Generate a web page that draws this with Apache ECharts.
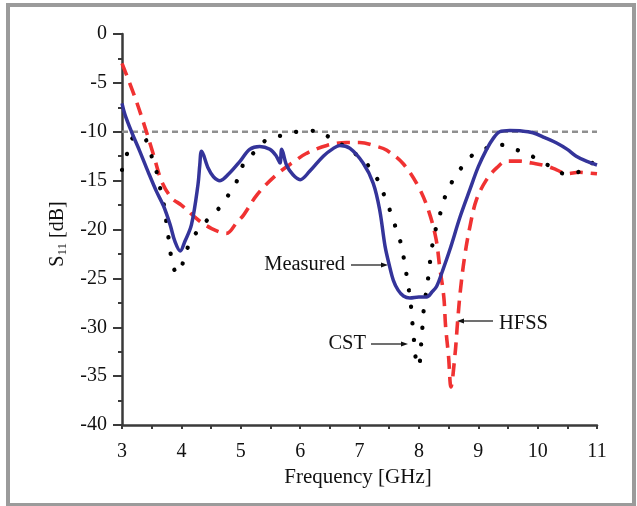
<!DOCTYPE html>
<html>
<head>
<meta charset="utf-8">
<script src="https://cdn.jsdelivr.net/npm/echarts@6/dist/echarts.min.js"></script>
<style>
html,body{margin:0;padding:0;background:#fff;}
#chart{width:637px;height:506px;}
</style>
</head>
<body>
<div id="chart"></div>
<script>
// ---- Data ----
const xTicks = [3, 4, 5, 6, 7, 8, 9, 10, 11];
const yTicks = [0, -5, -10, -15, -20, -25, -30, -35, -40];
const refLevel = -10;

const measuredFreq = [3.0, 3.05, 3.16, 3.30, 3.44, 3.58, 3.70, 3.81, 3.89, 3.98, 4.06, 4.17, 4.28, 4.31, 4.34, 4.45, 4.54, 4.65, 4.80, 4.99, 5.15, 5.32, 5.49, 5.60, 5.66, 5.69, 5.77, 5.88, 6.00, 6.16, 6.39, 6.56, 6.67, 6.84, 7.06, 7.23, 7.34, 7.43, 7.50, 7.57, 7.65, 7.74, 7.85, 8.00, 8.13, 8.22, 8.30, 8.40, 8.52, 8.70, 8.86, 9.00, 9.14, 9.25, 9.36, 9.53, 9.70, 9.92, 10.12, 10.32, 10.50, 10.65, 10.82, 11.0];
const measuredS11 = [-7.1, -8.25, -10.0, -12.0, -14.1, -16.1, -17.6, -19.5, -21.2, -22.2, -21.2, -19.5, -15.4, -13.4, -12.0, -13.7, -14.6, -15.0, -14.3, -13.0, -11.8, -11.5, -11.8, -12.5, -13.2, -11.8, -13.4, -14.4, -14.9, -14.05, -12.5, -11.7, -11.4, -11.7, -13.2, -15.25, -18.0, -21.7, -23.6, -25.2, -26.2, -26.8, -27.0, -26.9, -26.9, -26.4, -25.8, -24.2, -22.1, -18.6, -15.9, -13.6, -11.8, -10.7, -10.0, -9.86, -9.9, -10.1, -10.6, -11.15, -11.8, -12.5, -13.0, -13.4];

const cstFreq = [3.0, 3.08, 3.16, 3.27, 3.38, 3.47, 3.58, 3.64, 3.70, 3.78, 3.82, 3.88, 3.95, 4.02, 4.11, 4.23, 4.41, 4.61, 4.79, 4.93, 5.07, 5.21, 5.44, 5.72, 6.00, 6.28, 6.50, 6.75, 6.98, 7.18, 7.33, 7.44, 7.54, 7.63, 7.71, 7.76, 7.81, 7.85, 7.88, 7.90, 7.93, 7.96, 7.99, 8.02, 8.04, 8.06, 8.08, 8.12, 8.16, 8.19, 8.23, 8.29, 8.37, 8.45, 8.57, 8.72, 8.91, 9.10, 9.30, 9.45, 9.71, 9.97, 10.20, 10.47, 10.74, 10.96, 11.0];
const cstS11 = [-13.9, -12.35, -10.8, -10.4, -10.6, -12.0, -14.05, -15.7, -17.3, -20.7, -22.5, -24.1, -24.5, -23.5, -21.8, -20.5, -19.2, -18.0, -16.5, -15.1, -13.0, -12.2, -10.8, -10.35, -9.95, -9.9, -10.6, -11.5, -12.5, -13.7, -15.2, -16.9, -18.5, -20.2, -21.7, -23.5, -25.3, -27.0, -28.6, -30.3, -32.0, -33.8, -34.0, -33.35, -31.6, -30.0, -28.3, -26.5, -24.8, -23.2, -21.5, -19.8, -18.15, -16.5, -15.0, -13.65, -12.35, -11.8, -11.3, -11.4, -12.0, -12.7, -13.5, -14.3, -14.0, -13.0, -12.9];

const hfssFreq = [3.0, 3.22, 3.39, 3.53, 3.67, 3.84, 4.00, 4.28, 4.51, 4.76, 4.93, 5.05, 5.28, 5.60, 5.91, 6.11, 6.45, 6.78, 7.00, 7.29, 7.46, 7.74, 8.00, 8.17, 8.29, 8.35, 8.42, 8.45, 8.50, 8.54, 8.61, 8.65, 8.70, 8.77, 8.86, 8.97, 9.14, 9.31, 9.48, 9.70, 9.90, 10.15, 10.32, 10.49, 10.70, 10.82, 11.0];
const hfssS11 = [-3.0, -6.5, -9.6, -12.35, -15.1, -16.8, -17.5, -19.0, -19.9, -20.4, -19.3, -18.5, -16.4, -14.4, -13.0, -12.2, -11.4, -11.1, -11.1, -11.5, -11.9, -13.3, -15.7, -18.2, -21.0, -23.8, -26.9, -29.9, -33.0, -36.1, -32.7, -29.6, -26.2, -22.8, -19.7, -16.95, -14.9, -13.7, -13.0, -13.0, -13.2, -13.5, -13.9, -14.3, -14.15, -14.2, -14.3];

const zip = (xs, ys) => xs.map((x, i) => [x, ys[i]]);

const serif = "'Liberation Serif', 'Times New Roman', serif";
const chart = echarts.init(document.getElementById('chart'), null, {renderer: 'canvas'});

const option = {
  animation: false,
  backgroundColor: '#ffffff',
  grid: {left: 122, right: 40, top: 34, bottom: 81, containLabel: false},
  xAxis: {
    type: 'value', min: xTicks[0], max: xTicks[xTicks.length - 1], interval: 1,
    axisLine: {show: true, onZero: false, lineStyle: {color: '#3a3a3a', width: 2.5}},
    axisTick: {show: true, length: 4, inside: false, lineStyle: {color: '#3a3a3a', width: 2}},
    minorTick: {show: true, splitNumber: 2, length: 4, lineStyle: {color: '#3a3a3a', width: 2}},
    splitLine: {show: false},
    axisLabel: {color: '#111', fontFamily: serif, fontSize: 20, margin: 17,
      formatter: v => xTicks.includes(v) ? String(v) : ''}
  },
  yAxis: {
    type: 'value', min: yTicks[yTicks.length - 1], max: yTicks[0], interval: 5,
    axisLine: {show: true, onZero: false, lineStyle: {color: '#3a3a3a', width: 2.5}},
    axisTick: {show: true, length: 9, inside: false, lineStyle: {color: '#3a3a3a', width: 2}},
    minorTick: {show: true, splitNumber: 2, length: 4, lineStyle: {color: '#3a3a3a', width: 2}},
    splitLine: {show: false},
    axisLabel: {color: '#111', fontFamily: serif, fontSize: 20, margin: 15, padding: [5, 0, 0, 0],
      formatter: v => yTicks.includes(v) ? String(v) : ''}
  },
  series: [
    {
      name: '-10 dB', type: 'line', symbol: 'none', silent: true, z: 1,
      data: [[xTicks[0], refLevel], [xTicks[xTicks.length - 1], refLevel]],
      lineStyle: {color: '#8f8f8f', width: 2.5, type: [6, 4]}
    },
    {
      name: 'HFSS', type: 'line', symbol: 'none', smooth: 0.35, z: 2,
      data: zip(hfssFreq, hfssS11),
      lineStyle: {color: '#f03232', width: 3.6, type: [13, 8]}
    },
    {
      name: 'CST', type: 'line', symbol: 'none', smooth: 0.35, z: 3,
      data: zip(cstFreq, cstS11),
      lineStyle: {color: '#000000', width: 4.3, type: [0.1, 16.5], cap: 'round'}
    },
    {
      name: 'Measured', type: 'line', symbol: 'none', smooth: 0.35, z: 4,
      data: zip(measuredFreq, measuredS11),
      lineStyle: {color: '#34349a', width: 3.5}
    }
  ],
  graphic: [
    {type: 'rect', z: 100, shape: {x: 8, y: 5, width: 626, height: 500},
     style: {fill: 'none', stroke: '#9b9b9b', lineWidth: 4}},
    {type: 'text', z: 100, x: 358, y: 477,
     style: {text: 'Frequency [GHz]', font: "21px " + serif, fill: '#111', align: 'center', verticalAlign: 'middle'}},
    {type: 'text', z: 100, x: 58, y: 234, rotation: Math.PI / 2,
     style: {text: '{m|S}{s|11}{m| [dB]}', fill: '#111', align: 'center', verticalAlign: 'middle',
       rich: {m: {fontFamily: serif, fontSize: 20, fill: '#111'},
              s: {fontFamily: serif, fontSize: 13, fill: '#111', padding: [9, 0, 0, 0]}}}},
    // annotations
    {type: 'text', z: 100, x: 345, y: 265,
     style: {text: 'Measured', font: "20.5px " + serif, fill: '#111', align: 'right', verticalAlign: 'middle'}},
    {type: 'line', z: 100, shape: {x1: 351, y1: 265, x2: 382, y2: 265}, style: {stroke: '#111', lineWidth: 1.2}},
    {type: 'polygon', z: 100, shape: {points: [[388, 265], [381, 262.5], [381, 267.5]]}, style: {fill: '#111'}},
    {type: 'text', z: 100, x: 366, y: 344,
     style: {text: 'CST', font: "20.5px " + serif, fill: '#111', align: 'right', verticalAlign: 'middle'}},
    {type: 'line', z: 100, shape: {x1: 371, y1: 344, x2: 402, y2: 344}, style: {stroke: '#111', lineWidth: 1.2}},
    {type: 'polygon', z: 100, shape: {points: [[408, 344], [401, 341.5], [401, 346.5]]}, style: {fill: '#111'}},
    {type: 'text', z: 100, x: 499, y: 324,
     style: {text: 'HFSS', font: "20.5px " + serif, fill: '#111', align: 'left', verticalAlign: 'middle'}},
    {type: 'line', z: 100, shape: {x1: 493, y1: 321, x2: 464, y2: 321}, style: {stroke: '#111', lineWidth: 1.2}},
    {type: 'polygon', z: 100, shape: {points: [[457, 321], [464, 318.5], [464, 323.5]]}, style: {fill: '#111'}}
  ]
};
chart.setOption(option);
</script>
</body>
</html>
